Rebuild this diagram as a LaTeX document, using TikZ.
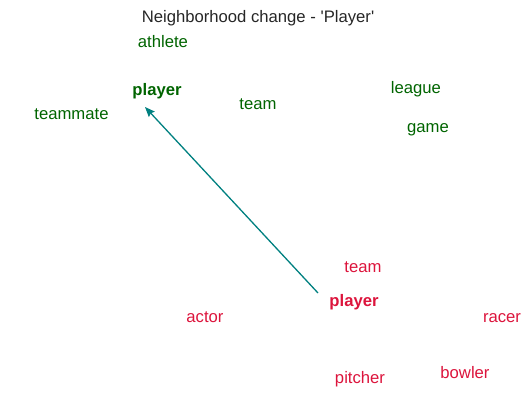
\documentclass[tikz,border=0pt]{standalone}
\usepackage{fontspec}
\setmainfont{Liberation Sans}
\usetikzlibrary{calc,arrows.meta}
\definecolor{oldword}{RGB}{0,100,0}
\definecolor{newword}{RGB}{220,20,60}
\definecolor{shiftline}{RGB}{0,128,128}
\definecolor{titlegray}{RGB}{38,38,38}
\begin{document}
\begin{tikzpicture}
      [x=1pt,y=-1pt,
      every node/.style={inner sep=0pt,anchor=base,font=\fontsize{16.67}{20}\selectfont},
      old/.style={text=oldword},
      new/.style={text=newword},
      target/.style={font=\fontsize{16.67}{20}\selectfont\bfseries},
      shiftarrow/.style={draw=shiftline,line width=1.3pt,-{Stealth[length=10pt,width=8pt,inset=1.5pt]}}]
      \useasboundingbox (0,0) rectangle (531,409);
      \node[text=titlegray] (title) at (258,22.5) {Neighborhood change - \textquotesingle Player\textquotesingle};
      % before
      \node[old,target] (gplayer) at (157,96) {player};
      \node[old] (gathlete) at (163,48) {athlete};
      \node[old] (gteam) at (258,109.5) {team};
      \node[old] (gleague) at (416,93.5) {league};
      \node[old] (ggame) at (428,132.5) {game};
      \node[old] (gteammate) at (71.5,120) {teammate};
      % after
      \node[new,target] (rplayer) at (354,307) {player};
      \node[new] (rteam) at (363,273) {team};
      \node[new] (ractor) at (205,323) {actor};
      \node[new] (rracer) at (502,323) {racer};
      \node[new] (rpitcher) at (360,383.5) {pitcher};
      \node[new] (rbowler) at (465,378) {bowler};
      \draw[shiftarrow] ($(rplayer.base)+(-36,-14)$) -- ($(gplayer.base)+(-12,11)$);
\end{tikzpicture}
\end{document}
